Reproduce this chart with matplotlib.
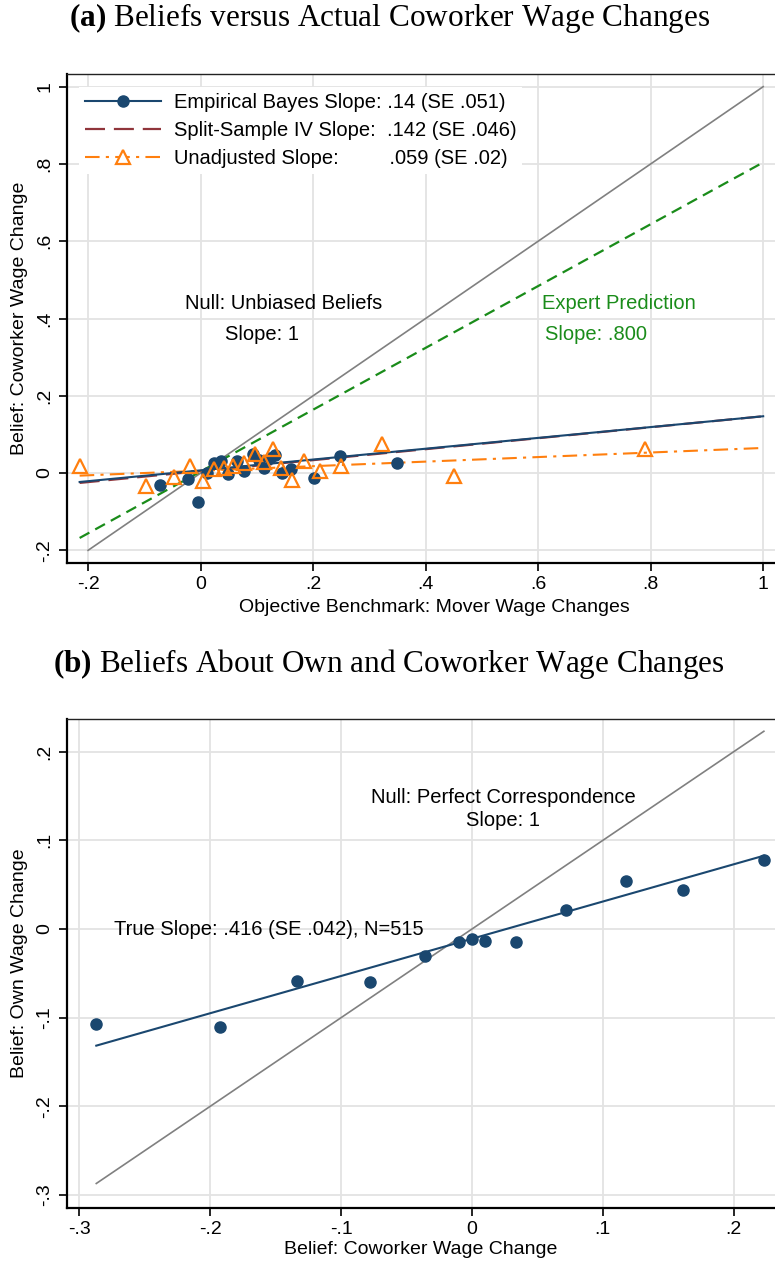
import matplotlib
matplotlib.use("Agg")
import matplotlib.pyplot as plt
from matplotlib.lines import Line2D
import numpy as np

plt.rcParams['font.family'] = ['Liberation Sans', 'DejaVu Sans']
plt.rcParams['mathtext.fontset'] = 'custom'
plt.rcParams['mathtext.rm'] = 'Liberation Serif'
plt.rcParams['mathtext.bf'] = 'Liberation Serif:bold'

# ---- panel (a) data ----
eb_x = [-0.073, -0.022, -0.004, 0.011, 0.023, 0.036, 0.049, 0.064, 0.078, 0.093,
        0.103, 0.112, 0.124, 0.132, 0.144, 0.161, 0.202, 0.247, 0.349]
eb_y = [-0.031, -0.015, -0.074, 0.001, 0.027, 0.030, -0.002, 0.030, 0.006, 0.049,
        0.034, 0.014, 0.039, 0.047, 0.000, 0.010, -0.013, 0.045, 0.027]
raw_x = [-0.215, -0.097, -0.047, -0.019, 0.004, 0.023, 0.041, 0.058, 0.077, 0.096,
         0.113, 0.128, 0.143, 0.162, 0.183, 0.212, 0.249, 0.322, 0.451, 0.790]
raw_y = [0.017, -0.033, -0.009, 0.017, -0.020, 0.011, 0.014, 0.017, 0.027, 0.050,
         0.028, 0.062, 0.013, -0.018, 0.030, 0.006, 0.017, 0.075, -0.007, 0.063]
fit_range = [-0.215, 1.0]
eb_fit = (0.007, 0.140)      # intercept, slope
iv_fit = (0.005, 0.142)
raw_fit = (0.006, 0.059)
expert_fit = (0.004, 0.800)
null_range = [-0.2, 1.0]

# ---- panel (b) data ----
cw_x = [-0.2875, -0.1924, -0.1335, -0.0778, -0.036, -0.0099, -0.0002, 0.010, 0.034,
        0.072, 0.1176, 0.161, 0.223]
own_y = [-0.107, -0.110, -0.059, -0.060, -0.030, -0.015, -0.011, -0.014, -0.015,
         0.021, 0.054, 0.044, 0.078]
b_fit = (-0.011, 0.42)
b_range = [-0.287, 0.223]

NAVY = '#1a476f'
MAROON = '#90353b'
ORANGE = '#ff7f0e'
GREEN = '#1a8c1a'
GRAY = '#808080'
GRID = '#e3e3e3'

W, H = 775, 1262
fig = plt.figure(figsize=(W / 100, H / 100), dpi=100)


def frame(ax):
    ax.grid(True, color=GRID, lw=1.3)
    ax.set_axisbelow(True)
    ax.spines['right'].set_visible(False)
    ax.spines['top'].set_linewidth(1.0)
    ax.spines['top'].set_color('#222222')
    for s in ['left', 'bottom']:
        ax.spines[s].set_linewidth(1.6)
    ax.tick_params(direction='out', length=6, width=1.2, labelsize=14)
    for lab in ax.get_yticklabels():
        lab.set_rotation(90)
        lab.set_va('center')


# ---------------- panel (a) ----------------
ax1 = fig.add_axes([66.7 / W, 1 - 562.7 / H, (W - 66.7) / W, 488.4 / H])
xs = np.array(fit_range)
ax1.plot(null_range, null_range, color=GRAY, lw=1.2, zorder=2)
ax1.plot(xs, expert_fit[0] + expert_fit[1] * xs, color=GREEN, lw=1.6,
         dashes=(5, 3), zorder=2)
ax1.plot(xs, iv_fit[0] + iv_fit[1] * xs, color=MAROON, lw=1.6, dashes=(9, 4), zorder=3)
ax1.plot(xs, eb_fit[0] + eb_fit[1] * xs, color=NAVY, lw=1.5, zorder=4)
ax1.plot(xs, raw_fit[0] + raw_fit[1] * xs, color=ORANGE, lw=1.5,
         dashes=(7, 3, 1.5, 3), zorder=3)
ax1.plot(eb_x, eb_y, 'o', color=NAVY, ms=8, zorder=5)
ax1.plot(raw_x, raw_y, '^', mfc='none', mec=ORANGE, mew=1.6, ms=9.5, zorder=6)

ax1.set_xlim(-0.238, 1.021)
ax1.set_ylim(-0.232, 1.032)
at = [-0.2, 0, 0.2, 0.4, 0.6, 0.8, 1]
atl = ['-.2', '0', '.2', '.4', '.6', '.8', '1']
ax1.set_xticks(at)
ax1.set_xticklabels(atl)
ax1.set_yticks(at)
ax1.set_yticklabels(atl)
frame(ax1)
ax1.set_xlabel('Objective Benchmark: Mover Wage Changes', fontsize=14)
ax1.xaxis.set_label_coords((434 - 66.7) / (W - 66.7), -0.075)
ax1.set_ylabel('Belief: Coworker Wage Change', fontsize=14, labelpad=6)

ax1.text(0.147, 0.438, 'Null: Unbiased Beliefs', ha='center', va='center', fontsize=14.5)
ax1.text(0.109, 0.358, 'Slope: 1', ha='center', va='center', fontsize=14.5)
ax1.text(0.744, 0.438, 'Expert Prediction', ha='center', va='center', fontsize=14.5,
         color=GREEN)
ax1.text(0.702, 0.358, 'Slope: .800', ha='center', va='center', fontsize=14.5,
         color=GREEN)

handles = [
    Line2D([0, 0.5, 1], [0, 0, 0], color=NAVY, lw=1.5, marker='o', ms=8,
           markevery=[1]),
    Line2D([0, 0.5, 1], [0, 0, 0], color=MAROON, lw=1.6, dashes=(9, 4)),
    Line2D([0, 0.5, 1], [0, 0, 0], color=ORANGE, lw=1.5, dashes=(7, 3, 1.5, 3),
           marker='^', mfc='white', mec=ORANGE, mew=1.6, ms=9.5, markevery=[1]),
]
labels = ['Empirical Bayes Slope: .14 (SE .051)',
          'Split-Sample IV Slope:  .142 (SE .046)',
          'Unadjusted Slope:         .059 (SE .02)']
leg = ax1.legend(handles, labels, loc='upper left', bbox_to_anchor=(0.003, 0.995),
                 fontsize=14.5, frameon=True, facecolor='white', edgecolor='none',
                 framealpha=1, fancybox=False, handlelength=3.8, handletextpad=0.6,
                 labelspacing=0.45, borderpad=0.3)
leg.set_zorder(10)

fig.text(390 / W, 1 - 18 / H,
         r'$\mathbf{(a)}$ Beliefs versus Actual Coworker Wage Changes',
         ha='center', va='center', fontsize=22.5, family='Liberation Serif')

# ---------------- panel (b) ----------------
ax2 = fig.add_axes([66.7 / W, 1 - 1207.7 / H, (W - 66.7) / W, 488.4 / H])
bx = np.array(b_range)
ax2.plot(bx, bx, color=GRAY, lw=1.2, zorder=2)
ax2.plot(bx, b_fit[0] + b_fit[1] * bx, color=NAVY, lw=1.5, zorder=3)
ax2.plot(cw_x, own_y, 'o', color=NAVY, ms=8, zorder=4)

ax2.set_xlim(-0.3096, 0.2315)
ax2.set_ylim(-0.3143, 0.2365)
bt = [-0.3, -0.2, -0.1, 0, 0.1, 0.2]
btl = ['-.3', '-.2', '-.1', '0', '.1', '.2']
ax2.set_xticks(bt)
ax2.set_xticklabels(btl)
ax2.set_yticks(bt)
ax2.set_yticklabels(btl)
frame(ax2)
ax2.set_xlabel('Belief: Coworker Wage Change', fontsize=14, labelpad=2)
ax2.set_ylabel('Belief: Own Wage Change', fontsize=14, labelpad=6)

ax2.text(0.024, 0.1485, 'Null: Perfect Correspondence', ha='center', va='center',
         fontsize=14.5)
ax2.text(0.0235, 0.122, 'Slope: 1', ha='center', va='center', fontsize=14.5)
ax2.text(-0.2735, -0.001, 'True Slope: .416 (SE .042), N=515', ha='left',
         va='center', fontsize=14.5)

fig.text(389 / W, 1 - 664 / H,
         r'$\mathbf{(b)}$ Beliefs About Own and Coworker Wage Changes',
         ha='center', va='center', fontsize=22.5, family='Liberation Serif')

fig.savefig('out.png', dpi=100)
